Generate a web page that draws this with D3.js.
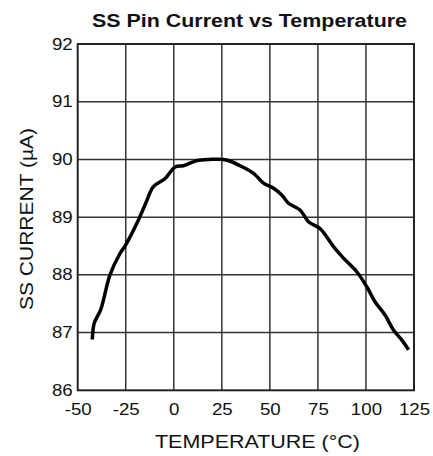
<!DOCTYPE html>
<html>
<head>
<meta charset="utf-8">
<script src="https://cdn.jsdelivr.net/npm/d3@7"></script>
<style>
  body { margin: 0; background: #fff; }
  text { font-family: "Liberation Sans", Arial, sans-serif; }
</style>
</head>
<body>
<svg width="433" height="456"></svg>
<script>
// curve: temperature (C) / current (uA)
var temps = [-42.4, -41.4, -38, -33.2, -28, -25, -18.4, -14.5, -10.6, -4.5, 0.7, 5, 12, 18.9, 25.8, 30.2, 34.5, 41.5, 46.7, 51.9, 56.3, 59.7, 65.8, 70.1, 76.2, 83.1, 88.3, 95.3, 100.5, 104.8, 110, 114.4, 118.7, 122.2];
var currents = [86.88, 87.16, 87.40, 88.0, 88.37, 88.52, 88.95, 89.25, 89.53, 89.67, 89.87, 89.89, 89.98, 90.0, 90.0, 89.96, 89.89, 89.76, 89.59, 89.5, 89.38, 89.24, 89.12, 88.92, 88.8, 88.49, 88.29, 88.05, 87.79, 87.53, 87.30, 87.04, 86.87, 86.70];
var xTicks = [-50, -25, 0, 25, 50, 75, 100, 125];
var yTicks = [86, 87, 88, 89, 90, 91, 92];

var svg = d3.select("svg"),
  margin = { top: 44, right: 19, bottom: 66, left: 77.7 },
  width = 414 - margin.left,
  height = 390.3 - margin.top,
  g = svg.append("g").attr("transform", "translate(" + margin.left + "," + margin.top + ")");

var x = d3.scaleLinear().domain([-50, 125]).range([0, width]);
var y = d3.scaleLinear().domain([86, 92]).range([height, 0]);

// grid
g.append("g").selectAll("line")
  .data(xTicks.slice(1, -1))
  .enter().append("line")
  .attr("x1", function(d) { return x(d); })
  .attr("x2", function(d) { return x(d); })
  .attr("y1", 0).attr("y2", height)
  .attr("stroke", "#333").attr("stroke-width", 1.5);

g.append("g").selectAll("line")
  .data(yTicks.slice(1, -1))
  .enter().append("line")
  .attr("y1", function(d) { return y(d); })
  .attr("y2", function(d) { return y(d); })
  .attr("x1", 0).attr("x2", width)
  .attr("stroke", "#333").attr("stroke-width", 1.5);

// frame
g.append("rect")
  .attr("width", width).attr("height", height)
  .attr("fill", "none").attr("stroke", "#222").attr("stroke-width", 2);

// axes, labels only (plain hyphen for minus like the original)
var fmt = function(d) { return String(d); };
var xAxis = g.append("g")
  .attr("transform", "translate(0," + height + ")")
  .call(d3.axisBottom(x).tickValues(xTicks).tickFormat(fmt).tickSize(0).tickPadding(10));
var yAxis = g.append("g")
  .call(d3.axisLeft(y).tickValues(yTicks).tickFormat(fmt).tickSize(0).tickPadding(5));
[xAxis, yAxis].forEach(function(a) {
  a.select(".domain").remove();
  a.selectAll("text")
    .attr("font-family", "Liberation Sans, Arial, sans-serif")
    .attr("font-size", 16)
    .attr("fill", "#111");
});
xAxis.selectAll("text").attr("dy", "0.95em").attr("transform", "scale(1.17,1)");
yAxis.selectAll("text").attr("transform", "translate(-5,0) scale(1.17,1) translate(5,0)");

// curve
var line = d3.line()
  .x(function(d, i) { return x(temps[i]); })
  .y(function(d) { return y(d); })
  .curve(d3.curveCatmullRom);

g.append("path")
  .datum(currents)
  .attr("fill", "none")
  .attr("stroke", "#000")
  .attr("stroke-width", 3.5)
  .attr("stroke-linejoin", "round")
  .attr("d", line);

// titles
svg.append("text")
  .attr("x", 249.5).attr("y", 27)
  .attr("text-anchor", "middle")
  .attr("font-size", 18).attr("font-weight", "bold")
  .attr("textLength", 315).attr("lengthAdjust", "spacingAndGlyphs")
  .attr("fill", "#111")
  .text("SS Pin Current vs Temperature");

svg.append("text")
  .attr("x", 257.5).attr("y", 448)
  .attr("text-anchor", "middle")
  .attr("font-size", 18)
  .attr("textLength", 205).attr("lengthAdjust", "spacingAndGlyphs")
  .attr("fill", "#111")
  .text("TEMPERATURE (°C)");

svg.append("text")
  .attr("transform", "translate(33,219) rotate(-90)")
  .attr("text-anchor", "middle")
  .attr("font-size", 18)
  .attr("textLength", 182).attr("lengthAdjust", "spacingAndGlyphs")
  .attr("fill", "#111")
  .text("SS CURRENT (µA)");
</script>
</body>
</html>
